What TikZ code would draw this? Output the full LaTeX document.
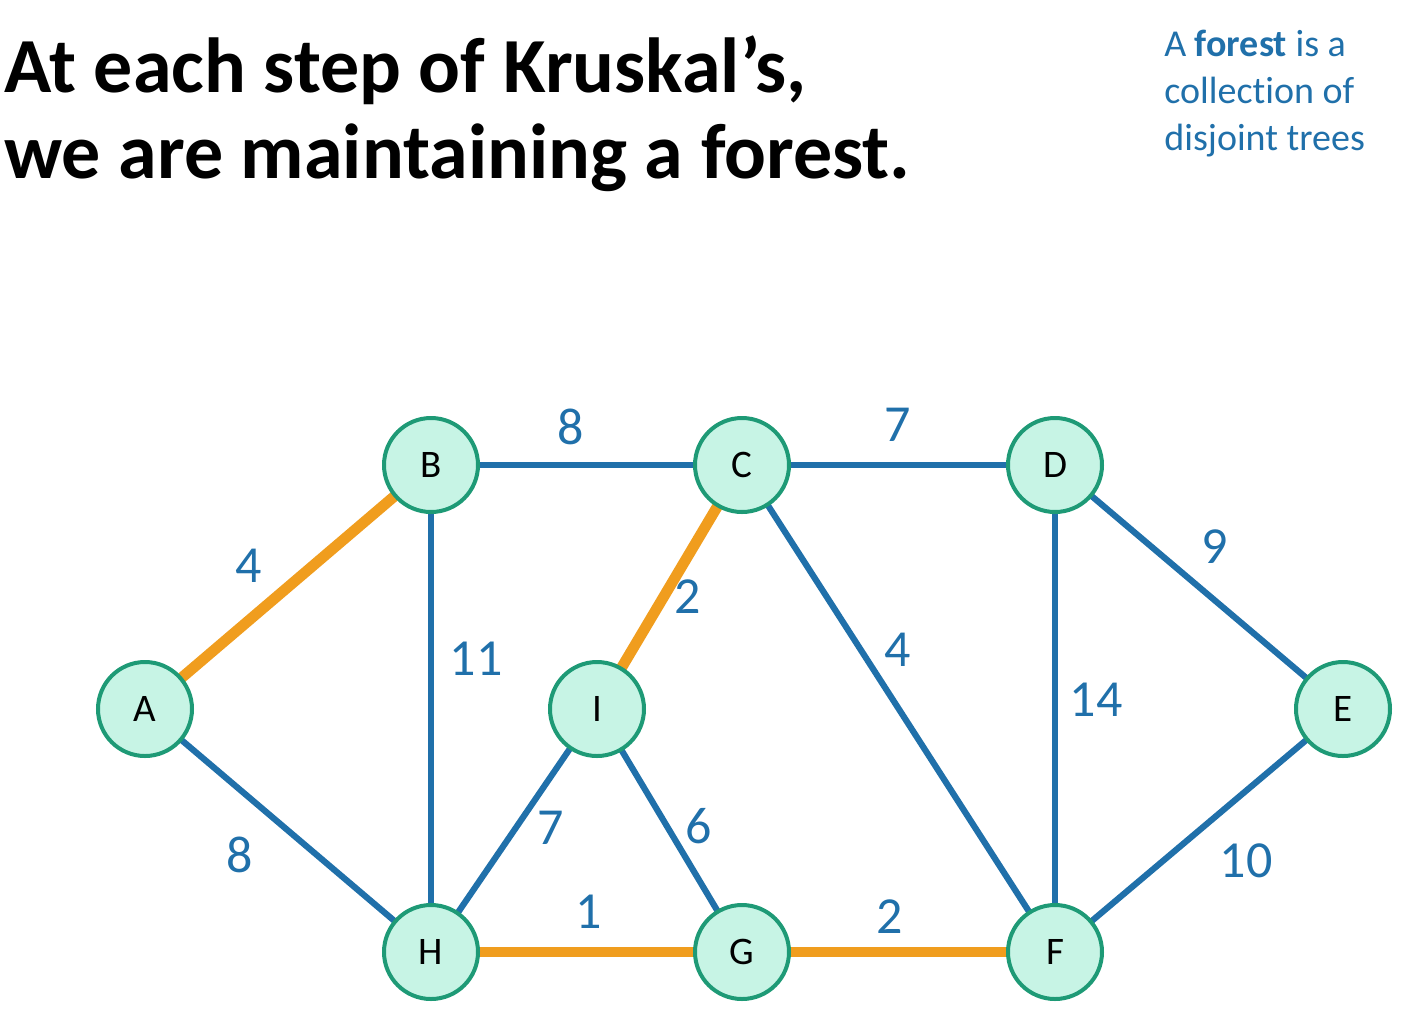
\documentclass[tikz,border=0pt]{standalone}
\usepackage{fontspec}
\setmainfont[Ligatures={NoCommon}]{Carlito}
\usetikzlibrary{backgrounds}
\definecolor{eblue}{RGB}{32,112,170}
\definecolor{eorange}{RGB}{240,157,30}
\definecolor{nfill}{RGB}{199,244,229}
\definecolor{nborder}{RGB}{30,154,118}
\tikzset{
  vert/.style={circle, draw=nborder, fill=nfill, line width=2pt, minimum size=47pt, inner sep=0pt, font=\fontsize{19.5}{22}\selectfont},
  bedge/.style={draw=eblue, line width=3.1pt},
  oedge/.style={draw=eorange, line width=5.4pt},
  wlabel/.style={text=eblue, inner sep=0pt, font=\fontsize{26}{30}\selectfont},
  titleline/.style={anchor=base west, inner sep=0pt, font=\fontsize{39}{43}\selectfont\bfseries},
  noteline/.style={anchor=base west, inner sep=0pt, text=eblue, font=\fontsize{19}{23}\selectfont}
}
\begin{document}
\begin{tikzpicture}[x=0.5pt,y=-0.5pt]
\useasboundingbox (0,0) rectangle (1404,1009);
% title
\node[titleline] (t1) at (4,92) {At each step of Kruskal’s,};
\node[titleline] (t2) at (4,178) {we are maintaining a forest.};
% note
\node[noteline] (n1) at (1164,56) {A \textbf{forest} is a};
\node[noteline] (n2) at (1164,103) {collection of};
\node[noteline] (n3) at (1164,150) {disjoint trees};
% vertices
\node[vert] (A) at (145,709) {A};
\node[vert] (B) at (431,465) {B};
\node[vert] (C) at (742,465) {C};
\node[vert] (D) at (1055,465) {D};
\node[vert] (E) at (1343,709) {E};
\node[vert] (F) at (1055,952) {F};
\node[vert] (G) at (742,952) {G};
\node[vert] (H) at (431,952) {H};
\node[vert] (I) at (597,709) {I};
% edges
\begin{pgfonlayer}{background}
\draw[oedge] (A.center) -- (B.center);
\draw[bedge] (A.center) -- (H.center);
\draw[bedge] (B.center) -- (C.center);
\draw[bedge] (B.center) -- (H.center);
\draw[bedge] (C.center) -- (D.center);
\draw[oedge] (C.center) -- (I.center);
\draw[bedge] (C.center) -- (F.center);
\draw[bedge] (D.center) -- (E.center);
\draw[bedge] (D.center) -- (F.center);
\draw[bedge] (E.center) -- (F.center);
\draw[bedge] (I.center) -- (H.center);
\draw[bedge] (I.center) -- (G.center);
\draw[oedge] (H.center) -- (G.center);
\draw[oedge] (G.center) -- (F.center);
\end{pgfonlayer}
% weights
\node[wlabel] (wAB) at (249,566) {4};
\node[wlabel] (wBC) at (571,427) {8};
\node[wlabel] (wCD) at (898,425) {7};
\node[wlabel] (wDE) at (1215,547) {9};
\node[wlabel] (wCI) at (688,597) {2};
\node[wlabel] (wBH) at (476,659) {11};
\node[wlabel] (wCF) at (898,650) {4};
\node[wlabel] (wDF) at (1096,700) {14};
\node[wlabel] (wAH) at (240,855) {8};
\node[wlabel] (wIH) at (551,828) {7};
\node[wlabel] (wIG) at (699,826) {6};
\node[wlabel] (wHG) at (589,912) {1};
\node[wlabel] (wGF) at (890,917) {2};
\node[wlabel] (wEF) at (1246,861) {10};
\end{tikzpicture}
\end{document}
